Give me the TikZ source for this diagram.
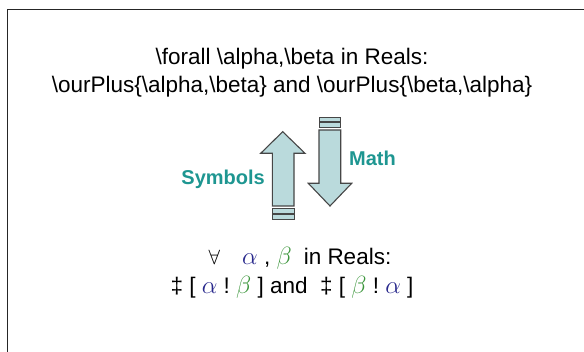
\documentclass[tikz,border=0pt]{standalone}
\usepackage{fontspec}
\setmainfont{Liberation Sans}
\definecolor{arrowfill}{RGB}{186,218,220}
\definecolor{arrowline}{RGB}{70,70,70}
\definecolor{labelteal}{RGB}{30,150,145}
\definecolor{alphablue}{RGB}{40,40,140}
\definecolor{betagreen}{RGB}{60,150,60}
\newcommand{\myalpha}{{\color{alphablue}\fontsize{23}{23}\selectfont$\alpha$}}
\newcommand{\mybeta}{{\color{betagreen}\fontsize{23}{23}\selectfont$\beta$}}
\begin{document}
\begin{tikzpicture}[x=1pt, y=-1pt,
  bigtext/.style={font=\fontsize{22.5}{27}\selectfont, anchor=base, inner sep=0pt},
  sidelabel/.style={font=\fontsize{20}{24}\selectfont\bfseries, text=labelteal, inner sep=0pt},
  blockarrow/.style={fill=arrowfill, draw=arrowline, line width=1.1pt, line join=miter},
  tailbar/.style={fill=arrowfill, draw=arrowline, line width=1pt}]
  \useasboundingbox (0,0) rectangle (584,352);
  % frame (cut off at right and bottom)
  \draw[line width=1.8pt, black!85] (7.5,352) -- (7.5,9.5) -- (584,9.5);

  % source text
  \node[bigtext] (forall) at (292,65)
    {\textbackslash forall \textbackslash alpha,\textbackslash beta in Reals:};
  \node[bigtext] (ourplus) at (292,93)
    {\textbackslash ourPlus\{\textbackslash alpha,\textbackslash beta\} and \textbackslash ourPlus\{\textbackslash beta,\textbackslash alpha\}};

  % up arrow
  \draw[blockarrow] (272.3,206) -- (272.3,153.3) -- (260.7,153.3) -- (282.7,131.7)
    -- (305,153.3) -- (294,153.3) -- (294,206) -- cycle;
  \draw[tailbar] (272.3,208.5) rectangle (294,213.5);
  \draw[tailbar] (272.3,215) rectangle (294,220);
  % down arrow
  \draw[blockarrow] (319,130) -- (319,183.3) -- (308.3,183.3) -- (330,206)
    -- (351.7,183.3) -- (340.7,183.3) -- (340.7,130) -- cycle;
  \draw[tailbar] (319,117.5) rectangle (340.7,121.5);
  \draw[tailbar] (319,123) rectangle (340.7,128);

  \node[sidelabel, anchor=base east] (symbols) at (265,185) {Symbols};
  \node[sidelabel, anchor=base west] (math) at (349,166) {Math};

  % symbol text
  \node[bigtext] (symline) at (300,265)
    {$\forall$\hspace{22pt}\myalpha~,~\mybeta\hspace{12pt}in Reals:};
  \node[bigtext] (plusline) at (292,294)
    {\textdaggerdbl~[~\myalpha~!~\mybeta~]~and~~\textdaggerdbl~[~\mybeta~!~\myalpha~]};
\end{tikzpicture}
\end{document}
